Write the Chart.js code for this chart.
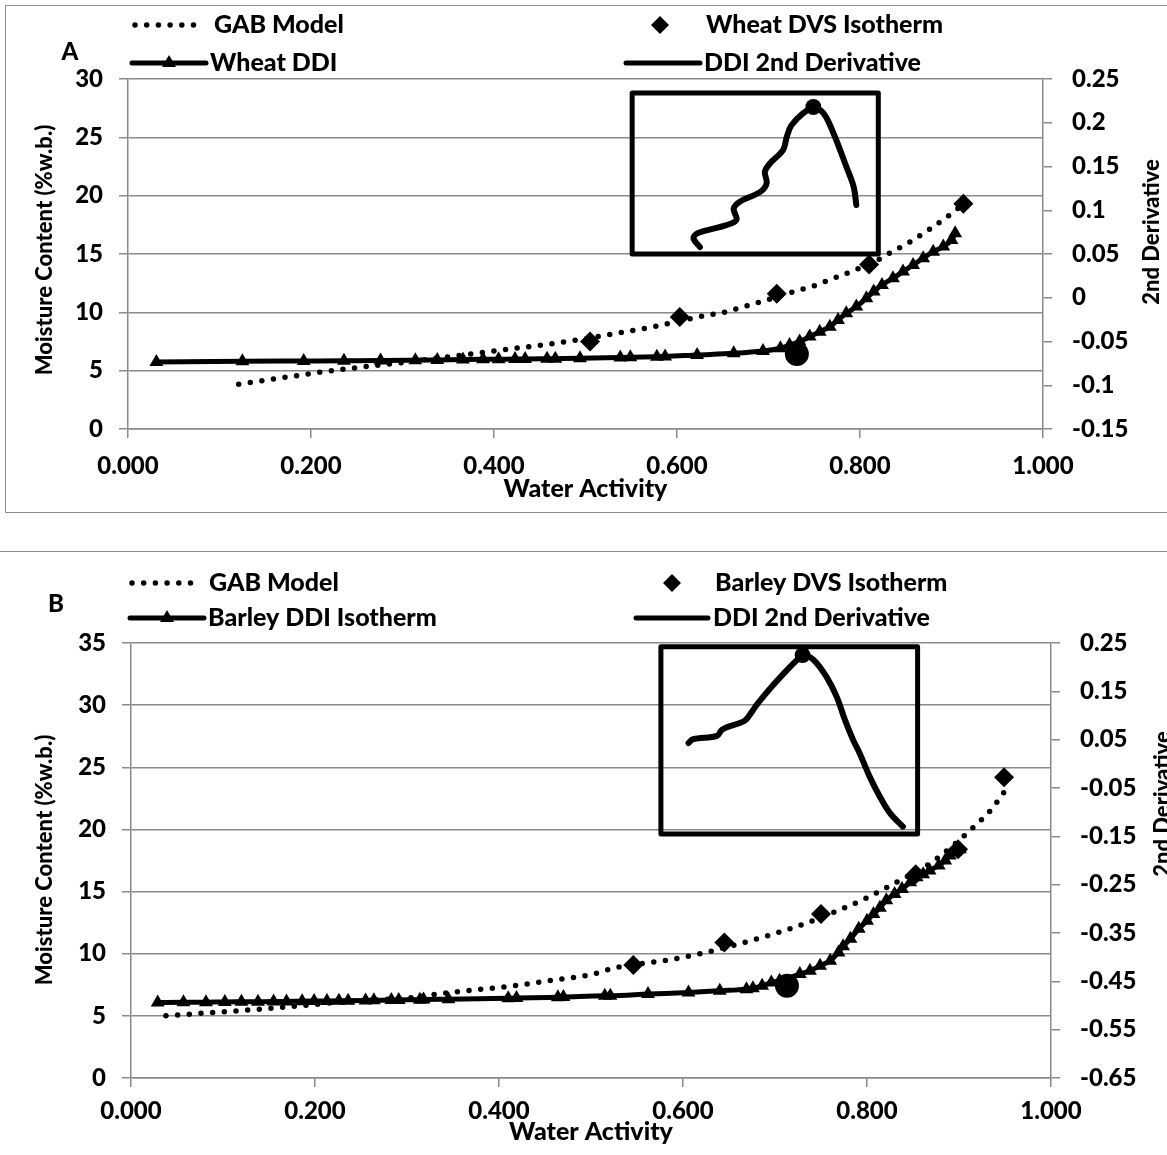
<!DOCTYPE html>
<html>
<head>
<meta charset="utf-8">
<script src="https://cdn.jsdelivr.net/npm/chart.js@4.4.0/dist/chart.umd.min.js"></script>
<style>
  body { margin: 0; background: #fff; width: 1167px; height: 1155px; overflow: hidden; position: relative; }
  #frameA { position: absolute; left: 5px; top: 5px; width: 1180px; height: 506px; border: 1.5px solid #8c8c8c; }
  #lineB { position: absolute; left: 0; top: 551px; width: 1167px; border-top: 1.5px solid #8c8c8c; }
  #boxA { position: absolute; left: 0; top: 0; width: 1167px; height: 515px; }
  #boxB { position: absolute; left: 0; top: 553px; width: 1167px; height: 602px; }
</style>
</head>
<body>
<div id="frameA"></div>
<div id="lineB"></div>
<div id="boxA"><canvas id="chartA"></canvas></div>
<div id="boxB"><canvas id="chartB"></canvas></div>
<script>
'use strict';
// ---- panel A : wheat ----
let aGabX = [0.121, 0.184, 0.235, 0.286, 0.337, 0.41, 0.486, 0.523, 0.549, 0.575, 0.6, 0.625, 0.651, 0.676, 0.7, 0.725, 0.749, 0.774, 0.797, 0.815, 0.833, 0.855, 0.876, 0.898, 0.913];
let aGabY = [3.83, 4.57, 5.12, 5.57, 6.06, 6.78, 7.57, 8.06, 8.4, 8.77, 9.2, 9.63, 10.0, 10.55, 11.1, 11.72, 12.26, 13.0, 13.7, 14.3, 15.1, 16.06, 17.12, 18.35, 19.27];
let aDvsX = [0.505, 0.603, 0.709, 0.81, 0.913];
let aDvsY = [7.5, 9.6, 11.6, 14.1, 19.3];
let aDdiX = [0.031, 0.125, 0.192, 0.236, 0.276, 0.314, 0.338, 0.366, 0.388, 0.405, 0.423, 0.434, 0.458, 0.467, 0.494, 0.538, 0.549, 0.578, 0.587, 0.622, 0.662, 0.694, 0.713, 0.723, 0.734, 0.745, 0.756, 0.767, 0.776, 0.785, 0.796, 0.807, 0.815, 0.824, 0.836, 0.847, 0.858, 0.869, 0.88, 0.891, 0.9, 0.904];
let aDdiY = [5.75, 5.8, 5.83, 5.85, 5.87, 5.9, 5.92, 5.95, 5.97, 5.98, 6.0, 6.0, 6.02, 6.03, 6.06, 6.12, 6.14, 6.2, 6.22, 6.35, 6.49, 6.69, 6.92, 7.2, 7.49, 7.92, 8.34, 8.77, 9.35, 9.92, 10.49, 11.2, 11.78, 12.35, 12.92, 13.49, 14.06, 14.64, 15.2, 15.64, 16.2, 16.78];
let aMarkX = [0.731];
let aMarkY = [6.43];
let a2ndX = [0.625, 0.618, 0.623, 0.654, 0.665, 0.662, 0.669, 0.691, 0.698, 0.696, 0.702, 0.716, 0.72, 0.725, 0.738, 0.749, 0.76, 0.771, 0.785, 0.793, 0.796];
let a2ndY = [0.058, 0.068, 0.074, 0.083, 0.089, 0.102, 0.11, 0.121, 0.131, 0.144, 0.154, 0.169, 0.184, 0.197, 0.211, 0.217, 0.211, 0.188, 0.15, 0.127, 0.106];
let aPeakX = [0.749];
let aPeakY = [0.218];
let aBox = [0.551, 0.82, 0.05, 0.234];   // x from, x to, y2 from, y2 to
let aLeftTicks = [0, 5, 10, 15, 20, 25, 30];
let aRightTicks = [-0.15, -0.1, -0.05, 0, 0.05, 0.1, 0.15, 0.2, 0.25];

// ---- panel B : barley ----
let bGabX = [0.038, 0.089, 0.14, 0.191, 0.242, 0.307, 0.332, 0.416, 0.454, 0.502, 0.528, 0.579, 0.617, 0.666, 0.716, 0.763, 0.8, 0.832, 0.865, 0.887, 0.916, 0.934, 0.95];
let bGabY = [5.0, 5.27, 5.54, 5.86, 6.2, 6.48, 6.75, 7.42, 7.82, 8.36, 8.9, 9.44, 9.97, 10.9, 12.0, 13.3, 14.5, 15.75, 17.1, 18.3, 20.2, 21.5, 23.1];
let bDvsX = [0.546, 0.645, 0.75, 0.853, 0.899, 0.949];
let bDvsY = [9.1, 10.9, 13.2, 16.4, 18.4, 24.2];
let bDdiX = [0.029, 0.057, 0.0815, 0.102, 0.12, 0.138, 0.155, 0.169, 0.186, 0.199, 0.213, 0.226, 0.236, 0.255, 0.264, 0.283, 0.291, 0.314, 0.318, 0.345, 0.41, 0.419, 0.464, 0.47, 0.515, 0.521, 0.562, 0.606, 0.64, 0.669, 0.676, 0.686, 0.696, 0.705, 0.727, 0.738, 0.749, 0.76, 0.769, 0.774, 0.782, 0.791, 0.8, 0.807, 0.814, 0.821, 0.83, 0.838, 0.847, 0.854, 0.861, 0.868, 0.878, 0.885, 0.89, 0.896, 0.901];
let bDdiY = [6.07, 6.09, 6.1, 6.12, 6.13, 6.14, 6.15, 6.16, 6.18, 6.19, 6.2, 6.21, 6.22, 6.24, 6.25, 6.27, 6.28, 6.3, 6.31, 6.34, 6.42, 6.43, 6.5, 6.51, 6.61, 6.61, 6.75, 6.88, 7.02, 7.15, 7.23, 7.42, 7.69, 7.82, 8.36, 8.63, 9.03, 9.44, 10.1, 10.6, 11.2, 12.0, 12.66, 13.2, 13.7, 14.3, 14.8, 15.2, 15.75, 16.15, 16.4, 16.7, 17.1, 17.5, 17.9, 18.2, 18.4];
let bMarkX = [0.713];
let bMarkY = [7.42];
let b2ndX = [0.606, 0.611, 0.637, 0.642, 0.648, 0.667, 0.675, 0.68, 0.698, 0.713, 0.724, 0.73, 0.742, 0.756, 0.767, 0.776, 0.785, 0.792, 0.803, 0.814, 0.825, 0.839];
let b2ndY = [0.043, 0.051, 0.058, 0.07, 0.076, 0.089, 0.108, 0.122, 0.163, 0.194, 0.215, 0.225, 0.215, 0.18, 0.139, 0.091, 0.049, 0.022, -0.027, -0.068, -0.102, -0.13];
let bPeakX = [0.73];
let bPeakY = [0.225];
let bBox = [0.576, 0.855, -0.145, 0.242];
let bLeftTicks = [0, 5, 10, 15, 20, 25, 30, 35];
let bRightTicks = [-0.65, -0.55, -0.45, -0.35, -0.25, -0.15, -0.05, 0.05, 0.15, 0.25];

let xTicks = [0, 0.2, 0.4, 0.6, 0.8, 1.0];

const GRID = '#8a8a8a';
const FONT = 'Lato, "Open Sans", sans-serif';
const WEIGHT = '900';

function pts(xs, ys) {
    return xs.map(function (v, i) { return { x: v, y: ys[i] }; });
}
function setTicks(list) {
    return function (axis) { axis.ticks = list.map(function (v) { return { value: v }; }); };
}

// inset box, legend, axis titles, panel letter
const decor = {
    id: 'decor',
    beforeDatasetsDraw(chart, args, o) {
        let ctx = chart.ctx, x = chart.scales.x, y2 = chart.scales.y2;
        let l = x.getPixelForValue(o.box[0]), r = x.getPixelForValue(o.box[1]);
        let t = y2.getPixelForValue(o.box[3]), b = y2.getPixelForValue(o.box[2]);
        ctx.save();
        ctx.strokeStyle = '#000';
        ctx.lineWidth = 5;
        ctx.lineJoin = 'round';
        ctx.strokeRect(l, t, r - l, b - t);
        ctx.restore();
    },
    afterDraw(chart, args, o) {
        let ctx = chart.ctx, ca = chart.chartArea;
        let lg = o.legend;
        ctx.save();
        ctx.fillStyle = '#000';
        ctx.strokeStyle = '#000';
        ctx.textBaseline = 'middle';
        ctx.textAlign = 'left';
        ctx.font = WEIGHT + ' 25px ' + FONT;
        // GAB sample
        ctx.lineWidth = 5.5;
        ctx.lineCap = 'round';
        ctx.setLineDash([0, 11.7]);
        ctx.beginPath(); ctx.moveTo(lg.dot[0], lg.row1); ctx.lineTo(lg.dot[1], lg.row1); ctx.stroke();
        ctx.setLineDash([]);
        ctx.fillText('GAB Model', lg.dot[2], lg.row1);
        // DVS sample
        let d = lg.dia[0];
        ctx.beginPath();
        ctx.moveTo(d, lg.row1 - 9); ctx.lineTo(d + 9, lg.row1); ctx.lineTo(d, lg.row1 + 9); ctx.lineTo(d - 9, lg.row1);
        ctx.closePath(); ctx.fill();
        ctx.fillText(o.names[0], lg.dia[1], lg.row1);
        // DDI sample
        ctx.lineWidth = 5;
        ctx.beginPath(); ctx.moveTo(lg.tri[0], lg.row2); ctx.lineTo(lg.tri[1], lg.row2); ctx.stroke();
        let tx = (lg.tri[0] + lg.tri[1]) / 2;
        ctx.beginPath();
        ctx.moveTo(tx, lg.row2 - 8); ctx.lineTo(tx + 7, lg.row2 + 4); ctx.lineTo(tx - 7, lg.row2 + 4);
        ctx.closePath(); ctx.fill();
        ctx.fillText(o.names[1], lg.tri[2], lg.row2);
        // derivative sample
        ctx.beginPath(); ctx.moveTo(lg.ln[0], lg.row2); ctx.lineTo(lg.ln[1], lg.row2); ctx.stroke();
        ctx.fillText('DDI 2nd Derivative', lg.ln[2], lg.row2);
        // panel letter
        ctx.font = WEIGHT + ' 24px ' + FONT;
        ctx.textAlign = 'center';
        ctx.fillText(o.letter[0], o.letter[1], o.letter[2]);
        // x title
        ctx.font = WEIGHT + ' 25px ' + FONT;
        ctx.fillText('Water Activity', (ca.left + ca.right) / 2, o.xTitleY);
        // left title
        ctx.font = WEIGHT + ' 22px ' + FONT;
        ctx.save();
        ctx.translate(o.yTitle[0], o.yTitle[1]);
        ctx.rotate(-Math.PI / 2);
        ctx.fillText('Moisture Content (%w.b.)', 0, 0);
        ctx.restore();
        // right title
        ctx.save();
        ctx.translate(o.y2Title[0], o.y2Title[1]);
        ctx.rotate(-Math.PI / 2);
        ctx.fillText('2nd Derivative', 0, 0);
        ctx.restore();
        ctx.restore();
    }
};

function buildChart(id, p) {
    let tickFont = { family: FONT, size: 24, weight: WEIGHT };
    return new Chart(document.getElementById(id), {
        type: 'scatter',
        data: {
            datasets: [
                { data: pts(p.markX, p.markY), pointRadius: 12, pointBackgroundColor: '#000', pointBorderWidth: 0, showLine: false },
                { data: pts(p.ddiX, p.ddiY), showLine: true, borderColor: '#000', borderWidth: 5, cubicInterpolationMode: 'monotone',
                  pointStyle: 'triangle', pointRadius: 8, pointBackgroundColor: '#000', pointBorderWidth: 0 },
                { data: pts(p.dvsX, p.dvsY), showLine: false, pointStyle: 'rectRot', pointRadius: 10,
                  pointBackgroundColor: '#000', pointBorderWidth: 0 },
                { data: pts(p.gabX, p.gabY), showLine: true, borderColor: '#000', borderWidth: 5.5, borderDash: [0, 11.7],
                  borderCapStyle: 'round', cubicInterpolationMode: 'monotone', pointRadius: 0 },
                { data: pts(p.peakX, p.peakY), yAxisID: 'y2', pointRadius: 8, pointBackgroundColor: '#000', pointBorderWidth: 0, showLine: false },
                { data: pts(p.secX, p.secY), yAxisID: 'y2', showLine: true, borderColor: '#000', borderWidth: 6, tension: 0.35,
                  borderCapStyle: 'round', borderJoinStyle: 'round', pointRadius: 0 }
            ]
        },
        options: {
            responsive: true,
            maintainAspectRatio: false,
            animation: false,
            events: [],
            layout: { padding: { top: p.top, left: 0, right: 0, bottom: 0 } },
            plugins: {
                legend: { display: false },
                tooltip: { enabled: false },
                decor: p.decor
            },
            scales: {
                x: {
                    type: 'linear', min: 0, max: 1,
                    afterBuildTicks: setTicks(xTicks),
                    afterFit: function (s) { s.height = p.xH; },
                    grid: { drawOnChartArea: false, color: GRID, lineWidth: 1.5, tickLength: 9 },
                    border: { color: GRID, width: 1.5 },
                    ticks: { font: tickFont, color: '#000', padding: p.xPad, maxRotation: 0, autoSkip: false,
                             callback: function (v) { return v.toFixed(3); } }
                },
                y: {
                    position: 'left', min: p.leftTicks[0], max: p.leftTicks[p.leftTicks.length - 1],
                    afterBuildTicks: setTicks(p.leftTicks),
                    afterFit: function (s) { s.width = p.yW; },
                    grid: { color: GRID, lineWidth: 1.5, tickLength: 9 },
                    border: { color: GRID, width: 1.5 },
                    ticks: { font: tickFont, color: '#000', padding: 16, callback: function (v) { return String(v); } }
                },
                y2: {
                    position: 'right', min: p.rightTicks[0], max: p.rightTicks[p.rightTicks.length - 1],
                    afterBuildTicks: setTicks(p.rightTicks),
                    afterFit: function (s) { s.width = p.y2W; },
                    grid: { drawOnChartArea: false, color: GRID, lineWidth: 1.5, tickLength: 9 },
                    border: { color: GRID, width: 1.5 },
                    ticks: { font: tickFont, color: '#000', padding: 20,
                             callback: function (v) { return String(Math.round(v * 100) / 100); } }
                }
            }
        },
        plugins: [decor]
    });
}

buildChart('chartA', {
    gabX: aGabX, gabY: aGabY, dvsX: aDvsX, dvsY: aDvsY, ddiX: aDdiX, ddiY: aDdiY,
    markX: aMarkX, markY: aMarkY, secX: a2ndX, secY: a2ndY, peakX: aPeakX, peakY: aPeakY,
    leftTicks: aLeftTicks, rightTicks: aRightTicks,
    top: 79, yW: 128, y2W: 124, xH: 86, xPad: 14,
    decor: {
        box: aBox,
        names: ['Wheat DVS Isotherm', 'Wheat DDI'],
        legend: { row1: 25, row2: 63, dot: [135, 200, 214], dia: [660, 706], tri: [132, 206, 210], ln: [626, 700, 704] },
        letter: ['A', 70, 52],
        xTitleY: 489,
        yTitle: [45, 250],
        y2Title: [1152, 232]
    }
});

buildChart('chartB', {
    gabX: bGabX, gabY: bGabY, dvsX: bDvsX, dvsY: bDvsY, ddiX: bDdiX, ddiY: bDdiY,
    markX: bMarkX, markY: bMarkY, secX: b2ndX, secY: b2ndY, peakX: bPeakX, peakY: bPeakY,
    leftTicks: bLeftTicks, rightTicks: bRightTicks,
    top: 90, yW: 131, y2W: 116, xH: 77, xPad: 10,
    decor: {
        box: bBox,
        names: ['Barley DVS Isotherm', 'Barley DDI Isotherm'],
        legend: { row1: 30, row2: 65, dot: [132, 193, 209], dia: [672, 715], tri: [130, 204, 208], ln: [636, 708, 713] },
        letter: ['B', 56, 51],
        xTitleY: 579,
        yTitle: [45, 307],
        y2Title: [1163, 251]
    }
});
</script>
</body>
</html>
